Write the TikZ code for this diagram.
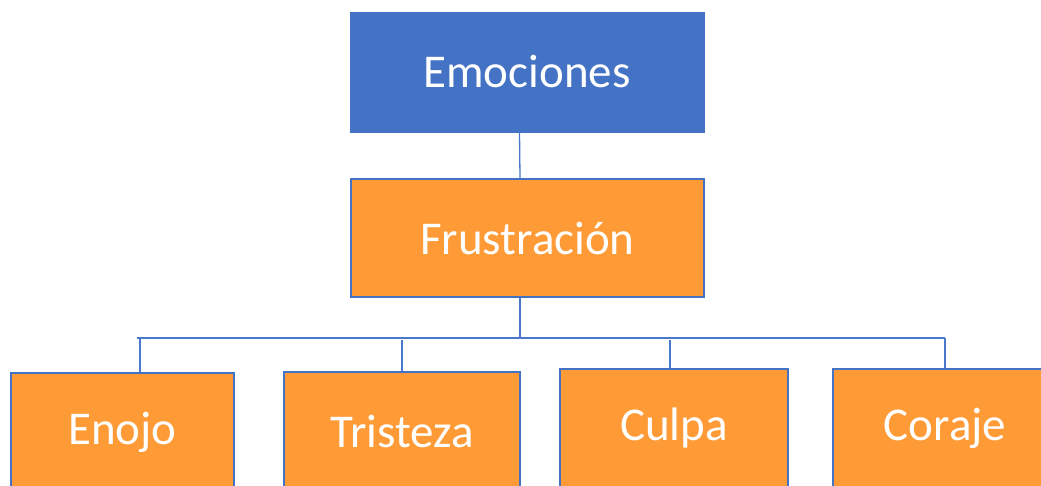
\documentclass[tikz,border=0pt]{standalone}
\usepackage{fontspec}
\setmainfont{Carlito}
\definecolor{boxblue}{HTML}{4472C4}
\definecolor{boxorange}{HTML}{FF9B37}
\definecolor{lineblue}{HTML}{4A78CC}
\begin{document}
\begin{tikzpicture}[x=1pt,y=-1pt,
  topbox/.style={rectangle,fill=boxblue,draw=boxblue,line width=1pt,inner sep=0pt,text=white,font=\fontsize{47}{56}\selectfont},
  orbox/.style={rectangle,fill=boxorange,draw=boxblue,line width=1.8pt,inner sep=0pt,text=white,font=\fontsize{47}{56}\selectfont},
  conn/.style={draw=lineblue,line width=1.3pt}]
\clip (0,0) rectangle (1041,485);
\useasboundingbox (0,0) rectangle (1041,485);
\fill[white] (0,0) rectangle (1041,485);
\node[topbox,minimum width=354pt,minimum height=120pt] (emo) at (527,72) {Emociones};
\node[orbox,minimum width=353pt,minimum height=118pt] (frus) at (527.5,238) {Frustración};
\node[orbox,minimum width=223pt,minimum height=118pt] (enojo) at (122.5,432) {Enojo};
\node[orbox,minimum width=236pt,minimum height=118pt] (tris) at (402,431) {Tristeza};
\node[orbox,minimum width=228pt,minimum height=118pt] (culpa) at (674,428) {Culpa};
\node[orbox,minimum width=224pt,minimum height=118pt] (coraje) at (945,428) {Coraje};
\coordinate (busL) at (137,338);
\coordinate (busR) at (945,338);
\coordinate (busM) at (520,338);
\coordinate (emoS) at ([xshift=-7.5pt]emo.south);
\coordinate (frusN) at ([xshift=-7.5pt]frus.north);
\coordinate (frusS) at ([xshift=-7.5pt]frus.south);
\coordinate (enojoN) at ([xshift=17.5pt]enojo.north);
\coordinate (culpaN) at ([xshift=-4pt]culpa.north);
\draw[conn] (emoS) -- (frusN);
\draw[conn] (frusS) -- (busM);
\draw[conn] (busL) -- (busR);
\draw[conn] (busL -| enojoN) -- (enojoN);
\draw[conn] ([yshift=-2pt]busL -| tris.north) -- (tris.north);
\draw[conn] ([yshift=-2pt]busL -| culpaN) -- (culpaN);
\draw[conn] (busR) -- (coraje.north);
\end{tikzpicture}
\end{document}
